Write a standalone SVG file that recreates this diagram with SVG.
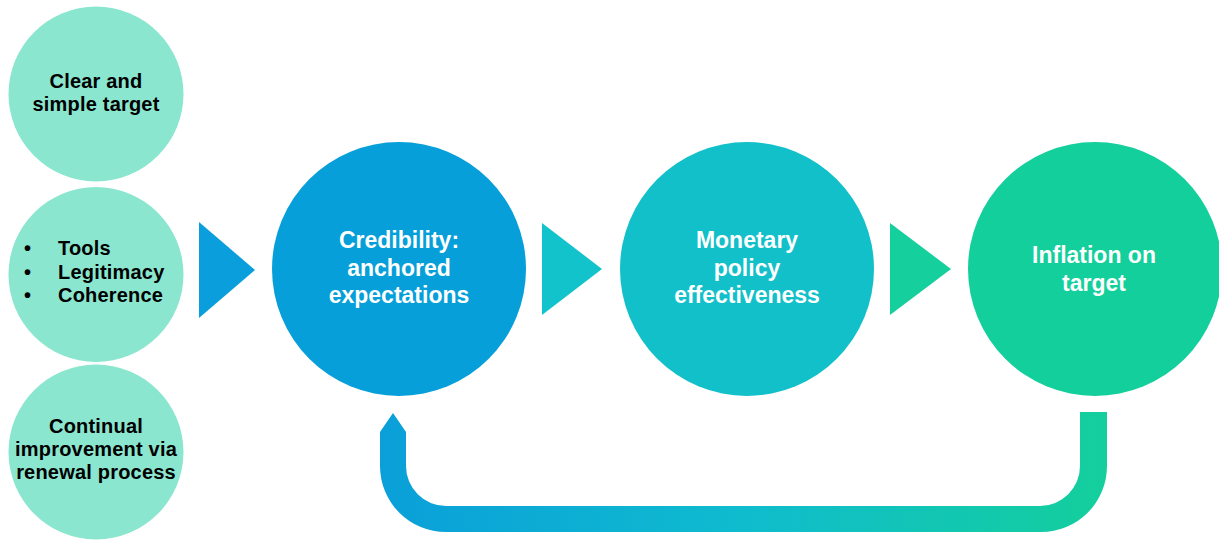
<svg xmlns="http://www.w3.org/2000/svg" width="1219" height="540" viewBox="0 0 1219 540">
<style>
.small{fill:#8ae6cf}
.lt{font-family:"Liberation Sans",Arial,sans-serif;font-weight:700;font-size:20px;fill:#000;text-anchor:middle;letter-spacing:0.2px}
.bt{font-family:"Liberation Sans",Arial,sans-serif;font-weight:700;font-size:23px;fill:#fff;text-anchor:middle}
.ll{font-family:"Liberation Sans",Arial,sans-serif;font-weight:700;font-size:20px;fill:#000;letter-spacing:0.2px}
</style>
<defs>
<linearGradient id="loop" gradientUnits="userSpaceOnUse" x1="380" y1="0" x2="1107" y2="0">
<stop offset="0" stop-color="#0a9fd9"/>
<stop offset="0.5" stop-color="#0fbcce"/>
<stop offset="1" stop-color="#14cf9c"/>
</linearGradient>
</defs>
<rect width="1219" height="540" fill="#fff"/>
<g id="node-clear">
<circle class="small" cx="96" cy="94" r="87.5"/>
<text class="lt"><tspan x="96" y="88">Clear and</tspan><tspan x="96" y="111">simple target</tspan></text>
</g>
<g id="node-tools">
<circle class="small" cx="96" cy="274.5" r="87.5"/>
<text class="ll"><tspan x="24" y="255">•</tspan><tspan x="58" y="255">Tools</tspan><tspan x="24" y="278.5">•</tspan><tspan x="58" y="278.5">Legitimacy</tspan><tspan x="24" y="302">•</tspan><tspan x="58" y="302">Coherence</tspan></text>
</g>
<g id="node-continual">
<circle class="small" cx="96" cy="452" r="87.5"/>
<text class="lt"><tspan x="96" y="433">Continual</tspan><tspan x="96" y="456">improvement via</tspan><tspan x="96" y="479">renewal process</tspan></text>
</g>
<g id="node-credibility">
<circle cx="399" cy="269" r="127" fill="#069fd9"/>
<text class="bt"><tspan x="399" y="248">Credibility:</tspan><tspan x="399" y="276">anchored</tspan><tspan x="399" y="303">expectations</tspan></text>
</g>
<g id="node-monetary">
<circle cx="747" cy="269" r="127" fill="#12c0ca"/>
<text class="bt"><tspan x="747" y="248">Monetary</tspan><tspan x="747" y="276">policy</tspan><tspan x="747" y="303">effectiveness</tspan></text>
</g>
<g id="node-inflation">
<circle cx="1095" cy="269" r="127" fill="#13cf9b"/>
<text class="bt"><tspan x="1094" y="263">Inflation on</tspan><tspan x="1094" y="291">target</tspan></text>
</g>
<g id="connectors">
<polygon points="199,222 255,270 199,318" fill="#0a9fdc"/>
<polygon points="542,223 602,269 542,315" fill="#13c3cb"/>
<polygon points="890,223 951,269 890,315" fill="#15cf9c"/>
<path d="M393,413 L406,432 L406,466 A40,40 0 0 0 446,506 L1040,506 A40,40 0 0 0 1080,466 L1080,412 L1107,412 L1107,466 A66,66 0 0 1 1041,532 L446,532 A66,66 0 0 1 380,466 L380,432 Z" fill="url(#loop)"/>
</g>
</svg>
